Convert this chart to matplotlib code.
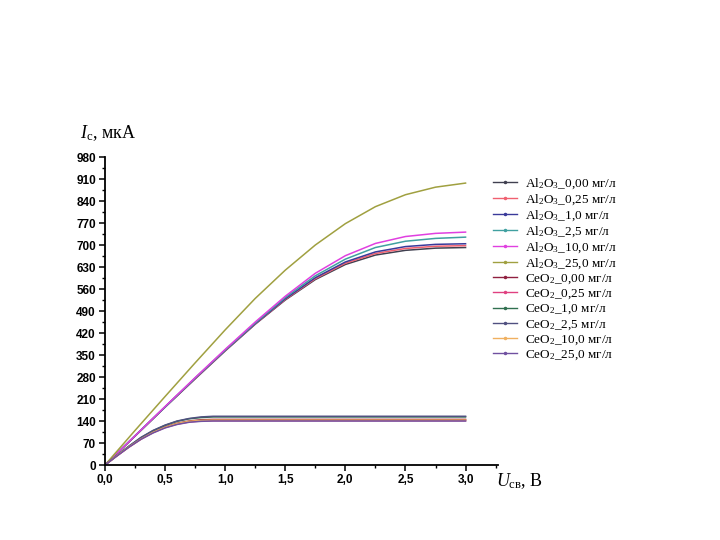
import matplotlib
matplotlib.use("Agg")
import matplotlib.pyplot as plt
from matplotlib.lines import Line2D
from matplotlib.ticker import MultipleLocator, FuncFormatter

plt.rcParams['mathtext.fontset'] = 'custom'
plt.rcParams['mathtext.rm'] = 'Liberation Serif'
plt.rcParams['mathtext.it'] = 'Liberation Serif:italic'

# Al2O3 series (upper group), sampled every 0.25 V
u_al = [0, 0.25, 0.5, 0.75, 1.0, 1.25, 1.5, 1.75, 2.0, 2.25, 2.5, 2.75, 3.0]
al_000 = [0, 92, 184, 274, 363, 448, 525, 590, 638, 668, 683, 690, 692]
al_025 = [0, 92, 185, 275, 364, 449, 527, 593, 642, 673, 689, 696, 698]
al_10 = [0, 93, 185, 276, 365, 450, 529, 596, 646, 678, 695, 702, 704]
al_25 = [0, 93, 185, 277, 366, 452, 533, 602, 655, 692, 712, 721, 725]
al_100 = [0, 93, 186, 278, 368, 455, 537, 610, 666, 705, 727, 737, 741]
al_250 = [0, 110, 218, 325, 430, 530, 620, 700, 768, 822, 860, 884, 897]

# CeO2 series (lower group)
u_ce = [0, 0.1, 0.2, 0.3, 0.4, 0.5, 0.6, 0.7, 0.8, 0.9, 1.0, 1.5, 2.0, 2.5, 3.0]
ce_000 = [0, 30, 58, 84, 105, 121, 133, 140, 144, 145, 145, 145, 145, 145, 145]
ce_025 = [0, 29, 57, 82, 103, 119, 130, 137, 140, 141, 141, 141, 141, 141, 141]
ce_10 = [0, 31, 60, 87, 109, 126, 139, 147, 151, 153, 153, 153, 153, 153, 153]
ce_25 = [0, 31, 60, 88, 110, 127, 140, 148, 153, 155, 155, 155, 155, 155, 155]
ce_100 = [0, 30, 58, 83, 104, 120, 132, 139, 142, 143, 143, 143, 143, 143, 143]
ce_250 = [0, 29, 57, 82, 102, 118, 129, 136, 139, 140, 140, 140, 140, 140, 140]

labels = [
    r'Al$_2$O$_3$_0,00 мг/л', r'Al$_2$O$_3$_0,25 мг/л', r'Al$_2$O$_3$_1,0 мг/л',
    r'Al$_2$O$_3$_2,5 мг/л', r'Al$_2$O$_3$_10,0 мг/л', r'Al$_2$O$_3$_25,0 мг/л',
    r'CeO$_2$_0,00 мг/л', r'CeO$_2$_0,25 мг/л', r'CeO$_2$_1,0 мг/л',
    r'CeO$_2$_2,5 мг/л', r'CeO$_2$_10,0 мг/л', r'CeO$_2$_25,0 мг/л',
]
colors = ['#404050', '#f06070', '#3a3a9a', '#40a0a0', '#e040e0', '#a0a040',
          '#902040', '#e04080', '#307050', '#505080', '#f0b060', '#7050a0']

series = [(u_al, al_000), (u_al, al_025), (u_al, al_10), (u_al, al_25),
          (u_al, al_100), (u_al, al_250),
          (u_ce, ce_000), (u_ce, ce_025), (u_ce, ce_10), (u_ce, ce_25),
          (u_ce, ce_100), (u_ce, ce_250)]

fig = plt.figure(figsize=(7.2, 5.4), dpi=100)
ax = fig.add_axes([105 / 720, 1 - 465 / 540, 393 / 720, 308 / 540])

handles = []
for (x, y), c in zip(series, colors):
    ax.plot(x, y, color=c, lw=1.1)
    handles.append(Line2D([], [], color=c, lw=1.0, marker='.', ms=3))

ax.set_xlim(0, 3.27)
ax.set_ylim(0, 980)
ax.spines['top'].set_visible(False)
ax.spines['right'].set_visible(False)
ax.spines['left'].set_linewidth(1.3)
ax.spines['bottom'].set_linewidth(1.3)

ax.xaxis.set_major_locator(MultipleLocator(0.5))
ax.xaxis.set_minor_locator(MultipleLocator(0.25))
ax.yaxis.set_major_locator(MultipleLocator(70))
ax.yaxis.set_minor_locator(MultipleLocator(35))
ax.xaxis.set_major_formatter(FuncFormatter(lambda v, p: f"{v:.1f}".replace('.', ',')))
ax.tick_params(which='major', length=4, width=1.1, labelsize=8.5, pad=2.5)
ax.tick_params(which='minor', length=2.5, width=1.0)
for t in ax.get_xticklabels() + ax.get_yticklabels():
    t.set_fontweight('bold')
    t.set_fontfamily('Liberation Sans')

fig.text(80 / 720, 1 - 133 / 540, r'$\mathit{I}_{\mathrm{с}}$, мкА', fontsize=13,
         family='Liberation Serif', va='center', ha='left')
fig.text(496 / 720, 1 - 481 / 540, r'$\mathit{U}_{\mathrm{св}}$, В', fontsize=13,
         family='Liberation Serif', va='center', ha='left')

fig.legend(handles, labels, loc='upper left', bbox_to_anchor=(493 / 720, 1 - 176 / 540),
           frameon=False, prop={'family': 'Liberation Serif', 'size': 9.5},
           handlelength=1.8, handletextpad=0.6, labelspacing=0.12,
           borderpad=0, borderaxespad=0)

fig.savefig('out.png', dpi=100)
